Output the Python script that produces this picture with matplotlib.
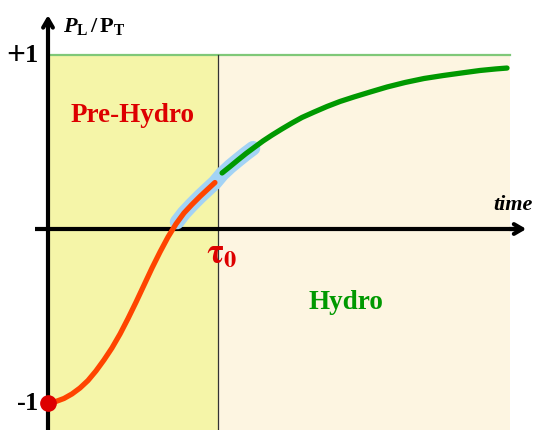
import matplotlib.pyplot as plt

# curve values (time in units of tau0, y = PL/PT)
pre_t = [0.000, 0.047, 0.094, 0.141, 0.188, 0.235, 0.282, 0.329, 0.376, 0.424, 0.471,
         0.518, 0.565, 0.612, 0.659, 0.706, 0.753, 0.800, 0.847, 0.894, 0.941, 0.982]
pre_y = [-1.000, -0.991, -0.974, -0.948, -0.914, -0.871, -0.816, -0.753, -0.684, -0.603, -0.514,
         -0.420, -0.322, -0.224, -0.132, -0.046, 0.029, 0.092, 0.141, 0.187, 0.230, 0.267]

hydro_t = [1.024, 1.071, 1.118, 1.165, 1.212, 1.265, 1.318, 1.376, 1.435, 1.494, 1.565, 1.641,
           1.718, 1.800, 1.894, 1.994, 2.100, 2.212, 2.324, 2.435, 2.541, 2.635, 2.700]
hydro_y = [0.322, 0.359, 0.397, 0.434, 0.468, 0.506, 0.540, 0.575, 0.609, 0.641, 0.672, 0.704,
           0.733, 0.759, 0.787, 0.816, 0.842, 0.865, 0.882, 0.897, 0.911, 0.920, 0.925]

# matching window (blue band)
match_t = [0.759, 0.800, 0.847, 0.894, 0.941, 0.982, 1.024, 1.071, 1.118, 1.165, 1.206]
match_y = [0.040, 0.092, 0.141, 0.187, 0.230, 0.267, 0.316, 0.359, 0.397, 0.434, 0.464]

tau0 = 1.0
t_end = 2.72
y_ticks = [1, -1]
y_tick_signs = ["+", "-"]
y_tick_nums = ["1", "1"]

plt.rcParams['mathtext.fontset'] = 'custom'
plt.rcParams['mathtext.rm'] = 'Liberation Serif:bold'
plt.rcParams['mathtext.bf'] = 'Liberation Serif:bold'
plt.rcParams['mathtext.it'] = 'Liberation Serif:italic:bold'
serif = 'Liberation Serif'

fig = plt.figure(figsize=(5.33, 4.30), dpi=100)
ax = fig.add_axes([0, 0, 1, 1])
ax.set_xlim(-48 / 170, 485 / 170)
ax.set_ylim(-201 / 174, 229 / 174)
ax.axis('off')

ybot = -201 / 174
# background regions
ax.fill_between([0, tau0], ybot, 1, color='#f5f5a8', lw=0, zorder=0)
ax.fill_between([tau0, t_end], ybot, 1, color='#fdf5e1', lw=0, zorder=0)
ax.plot([0, t_end], [1, 1], color='#7fc878', lw=1.6, zorder=1)
ax.plot([tau0, tau0], [ybot, 1], color='#333333', lw=0.9, zorder=1)

# axes with arrows
ax.plot([0, 0], [ybot, 1.2], color='black', lw=3, zorder=3, solid_capstyle='butt')
ax.plot([-0.076, 2.78], [0, 0], color='black', lw=3, zorder=3, solid_capstyle='butt')
ax.annotate('', xy=(0, 1.245), xytext=(0, 1.15),
            arrowprops=dict(arrowstyle='->,head_length=0.6,head_width=0.35', lw=3, color='black'), zorder=3)
ax.annotate('', xy=(2.83, 0), xytext=(2.7, 0),
            arrowprops=dict(arrowstyle='->,head_length=0.6,head_width=0.35', lw=3, color='black'), zorder=3)

# curves
ax.plot(match_t, match_y, color='#a3d3f5', lw=10.5, solid_capstyle='round', solid_joinstyle='round', zorder=4)
ax.plot(pre_t, pre_y, color='#ff4400', lw=3.8, solid_capstyle='round', solid_joinstyle='round', zorder=5)
ax.plot(hydro_t, hydro_y, color='#009900', lw=3.8, solid_capstyle='round', solid_joinstyle='round', zorder=5)
ax.plot([0], [-1], 'o', color='#dd0000', ms=11, zorder=6)

# labels
for v, s, n in zip(y_ticks, y_tick_signs, y_tick_nums):
    ax.text(-0.06, v, n, ha='right', va='center', family=serif, weight='bold', fontsize=19)
    ax.text(-0.132, v - 0.005, s, ha='right', va='center', family=serif, weight='bold',
            fontsize=24 if s == '+' else 19)
ax.text(0.09, 1.165, r'$\mathit{P}_{\mathrm{L}}\,/\,\mathrm{P}_{\mathrm{T}}$', ha='left', va='center', fontsize=16)
ax.text(2.85, 0.14, 'time', ha='right', va='center', family=serif, weight='bold', style='italic', fontsize=16)
ax.text(0.5, 0.655, 'Pre-Hydro', ha='center', va='center', family=serif, weight='bold', color='#dd0000', fontsize=19.5)
ax.text(1.75, -0.42, 'Hydro', ha='center', va='center', family=serif, weight='bold', color='#009900', fontsize=19.5)
ax.text(0.93, -0.14, r'$\mathbf{\tau}_{\mathbf{0}}$', ha='left', va='center', math_fontfamily='stix',
        color='#dd0000', fontsize=25)

fig.savefig('out.png', dpi=100)
